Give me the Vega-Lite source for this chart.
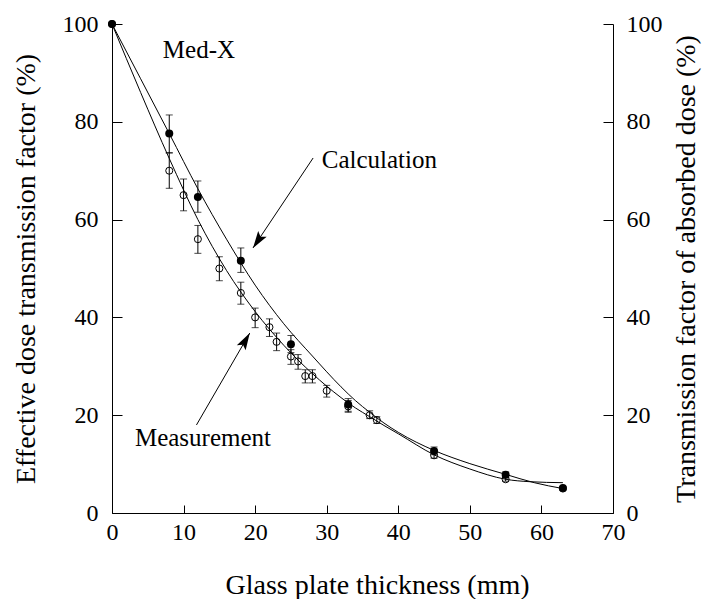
{
  "$schema": "https://vega.github.io/schema/vega-lite/v6.json",
  "width": 501,
  "height": 489,
  "autosize": "none",
  "padding": {"left": 112, "top": 24, "right": 89, "bottom": 86},
  "background": "white",
  "config": {
    "font": "Liberation Serif",
    "view": {"stroke": null},
    "axis": {
      "grid": false,
      "domainColor": "black",
      "tickColor": "black",
      "labelColor": "black",
      "titleColor": "black",
      "labelFont": "Liberation Serif",
      "titleFont": "Liberation Serif",
      "labelFontSize": 24,
      "titleFontSize": 28,
      "titleFontWeight": "normal",
      "domainWidth": 1,
      "tickWidth": 1
    }
  },
  "datasets": {
    "pts": [
      {"thickness": 0, "value": 100, "series": "Measurement"},
      {"thickness": 8, "value": 70, "lo": 66.4, "hi": 73.7, "series": "Measurement"},
      {"thickness": 10, "value": 65, "lo": 61.8, "hi": 68.3, "series": "Measurement"},
      {"thickness": 12, "value": 56, "lo": 53.1, "hi": 58.8, "series": "Measurement"},
      {"thickness": 15, "value": 50, "lo": 47.5, "hi": 52.4, "series": "Measurement"},
      {"thickness": 18, "value": 45, "lo": 42.7, "hi": 47.2, "series": "Measurement"},
      {"thickness": 20, "value": 40, "lo": 37.9, "hi": 41.9, "series": "Measurement"},
      {"thickness": 22, "value": 38, "lo": 36.1, "hi": 39.7, "series": "Measurement"},
      {"thickness": 23, "value": 35, "lo": 33.2, "hi": 36.8, "series": "Measurement"},
      {"thickness": 25, "value": 32, "lo": 30.4, "hi": 33.4, "series": "Measurement"},
      {"thickness": 26, "value": 31, "lo": 29.4, "hi": 32.4, "series": "Measurement"},
      {"thickness": 27, "value": 28, "lo": 26.6, "hi": 29.3, "series": "Measurement"},
      {"thickness": 28, "value": 28, "lo": 26.6, "hi": 29.3, "series": "Measurement"},
      {"thickness": 30, "value": 25, "lo": 23.7, "hi": 26.1, "series": "Measurement"},
      {"thickness": 33, "value": 21.8, "lo": 20.6, "hi": 23.0, "series": "Measurement"},
      {"thickness": 36, "value": 20, "lo": 19.3, "hi": 20.9, "series": "Measurement"},
      {"thickness": 37, "value": 19, "lo": 18.3, "hi": 19.7, "series": "Measurement"},
      {"thickness": 45, "value": 11.8, "lo": 11.2, "hi": 12.4, "series": "Measurement"},
      {"thickness": 55, "value": 6.9, "lo": 6.5, "hi": 7.3, "series": "Measurement"},
      {"thickness": 63, "value": 5, "lo": 4.7, "hi": 5.3, "series": "Measurement"},
      {"thickness": 0, "value": 100, "series": "Calculation"},
      {"thickness": 8, "value": 77.6, "lo": 73.6, "hi": 81.4, "series": "Calculation"},
      {"thickness": 12, "value": 64.6, "lo": 61.5, "hi": 67.9, "series": "Calculation"},
      {"thickness": 18, "value": 51.6, "lo": 49.2, "hi": 54.2, "series": "Calculation"},
      {"thickness": 25, "value": 34.5, "lo": 32.8, "hi": 36.3, "series": "Calculation"},
      {"thickness": 33, "value": 22.2, "lo": 20.8, "hi": 23.4, "series": "Calculation"},
      {"thickness": 45, "value": 12.7, "lo": 11.9, "hi": 13.5, "series": "Calculation"},
      {"thickness": 55, "value": 7.8, "lo": 7.2, "hi": 8.4, "series": "Calculation"},
      {"thickness": 63, "value": 5.1, "series": "Calculation"}
    ],
    "curves": [
      {"thickness": 0, "value": 100, "series": "Calculation"},
      {"thickness": 4, "value": 88.8, "series": "Calculation"},
      {"thickness": 8, "value": 77.6, "series": "Calculation"},
      {"thickness": 12, "value": 66.3, "series": "Calculation"},
      {"thickness": 16, "value": 56, "series": "Calculation"},
      {"thickness": 20, "value": 46.6, "series": "Calculation"},
      {"thickness": 24, "value": 38.7, "series": "Calculation"},
      {"thickness": 28, "value": 32.1, "series": "Calculation"},
      {"thickness": 32, "value": 25.8, "series": "Calculation"},
      {"thickness": 34, "value": 23.0, "series": "Calculation"},
      {"thickness": 36, "value": 20.6, "series": "Calculation"},
      {"thickness": 38, "value": 18.4, "series": "Calculation"},
      {"thickness": 40, "value": 16.5, "series": "Calculation"},
      {"thickness": 45, "value": 12.8, "series": "Calculation"},
      {"thickness": 50, "value": 10.1, "series": "Calculation"},
      {"thickness": 55, "value": 7.9, "series": "Calculation"},
      {"thickness": 59, "value": 6.2, "series": "Calculation"},
      {"thickness": 63, "value": 5.0, "series": "Calculation"},
      {"thickness": 0, "value": 100, "series": "Measurement"},
      {"thickness": 4, "value": 86, "series": "Measurement"},
      {"thickness": 8, "value": 72.5, "series": "Measurement"},
      {"thickness": 12, "value": 60, "series": "Measurement"},
      {"thickness": 16, "value": 49.6, "series": "Measurement"},
      {"thickness": 20, "value": 41.2, "series": "Measurement"},
      {"thickness": 24, "value": 34.3, "series": "Measurement"},
      {"thickness": 28, "value": 28.5, "series": "Measurement"},
      {"thickness": 32, "value": 23.6, "series": "Measurement"},
      {"thickness": 34, "value": 21.5, "series": "Measurement"},
      {"thickness": 36, "value": 19.7, "series": "Measurement"},
      {"thickness": 38, "value": 17.9, "series": "Measurement"},
      {"thickness": 40, "value": 16.2, "series": "Measurement"},
      {"thickness": 45, "value": 11.9, "series": "Measurement"},
      {"thickness": 50, "value": 9.0, "series": "Measurement"},
      {"thickness": 55, "value": 6.9, "series": "Measurement"},
      {"thickness": 58.4, "value": 6.4, "series": "Measurement"},
      {"thickness": 63, "value": 6.2, "series": "Measurement"}
    ],
    "labels": [
      {"x": 7.1, "y": 93.0, "text": "Med-X"},
      {"x": 29.3, "y": 70.5, "text": "Calculation"},
      {"x": 3.2, "y": 13.6, "text": "Measurement"}
    ],
    "arrows": [
      {"x": 28.1, "y": 72.6, "x2": 19.7, "y2": 54.2, "angle": 213.7},
      {"x": 11.8, "y": 18.0, "x2": 19.25, "y2": 36.8, "angle": 30.2}
    ]
  },
  "data": {"name": "pts"},
  "layer": [
    {
      "data": {"name": "curves"},
      "mark": {"type": "line", "interpolate": "monotone", "color": "black", "strokeWidth": 1},
      "encoding": {
        "x": {"field": "thickness", "type": "quantitative",
              "scale": {"domain": [0, 70], "nice": false},
              "axis": {"values": [0, 10, 20, 30, 40, 50, 60, 70], "tickSize": -8, "labelPadding": 15,
                       "labelFlush": false,
                       "title": "Glass plate thickness (mm)",
                       "titleX": 265, "titleY": 80, "titleBaseline": "alphabetic"}},
        "y": {"field": "value", "type": "quantitative",
              "scale": {"domain": [0, 100], "nice": false},
              "axis": {"orient": "left", "values": [0, 20, 40, 60, 80, 100], "tickSize": -10, "labelPadding": 24,
                       "title": "Effective dose transmission factor (%)",
                       "titleAngle": 270, "titleX": -78,
                       "titleY": 244.5, "titleAlign": "center", "titleBaseline": "alphabetic"}},
        "detail": {"field": "series"}
      }
    },
    {
      "mark": {"type": "rule", "color": "black", "strokeWidth": 1},
      "encoding": {
        "x": {"field": "thickness", "type": "quantitative"},
        "y": {"field": "lo", "type": "quantitative",
              "axis": {"orient": "right", "values": [0, 20, 40, 60, 80, 100], "tickSize": -10, "labelPadding": 23,
                       "title": "Transmission factor of absorbed dose (%)",
                       "titleAngle": 270, "titleX": 81.5,
                       "titleY": 244.5, "titleAlign": "center", "titleBaseline": "alphabetic"}},
        "y2": {"field": "hi"}
      }
    },
    {
      "mark": {"type": "point", "shape": "stroke", "stroke": "black", "strokeWidth": 1, "size": 49},
      "encoding": {
        "x": {"field": "thickness", "type": "quantitative"},
        "y": {"field": "lo", "type": "quantitative", "axis": null}
      }
    },
    {
      "mark": {"type": "point", "shape": "stroke", "stroke": "black", "strokeWidth": 1, "size": 49},
      "encoding": {
        "x": {"field": "thickness", "type": "quantitative"},
        "y": {"field": "hi", "type": "quantitative", "axis": null}
      }
    },
    {
      "transform": [{"filter": "datum.series === 'Measurement'"}],
      "mark": {"type": "point", "shape": "circle", "filled": false, "stroke": "black", "strokeWidth": 1, "size": 50, "opacity": 1},
      "encoding": {
        "x": {"field": "thickness", "type": "quantitative"},
        "y": {"field": "value", "type": "quantitative", "axis": null}
      }
    },
    {
      "transform": [{"filter": "datum.series === 'Calculation'"}],
      "mark": {"type": "point", "shape": "circle", "filled": true, "color": "black", "size": 64, "opacity": 1},
      "encoding": {
        "x": {"field": "thickness", "type": "quantitative"},
        "y": {"field": "value", "type": "quantitative", "axis": null}
      }
    },
    {
      "data": {"name": "arrows"},
      "mark": {"type": "rule", "color": "black", "strokeWidth": 1},
      "encoding": {
        "x": {"field": "x", "type": "quantitative"},
        "y": {"field": "y", "type": "quantitative", "axis": null},
        "x2": {"field": "x2"},
        "y2": {"field": "y2"}
      }
    },
    {
      "data": {"name": "arrows"},
      "mark": {"type": "point", "shape": "M0,0L-0.3,1L0,0.8L0.3,1Z", "filled": true, "color": "black", "size": 1156, "opacity": 1},
      "encoding": {
        "x": {"field": "x2", "type": "quantitative"},
        "y": {"field": "y2", "type": "quantitative", "axis": null},
        "angle": {"field": "angle", "type": "quantitative", "scale": null}
      }
    },
    {
      "data": {"name": "labels"},
      "mark": {"type": "text", "font": "Liberation Serif", "fontSize": 25, "align": "left", "baseline": "alphabetic", "color": "black"},
      "encoding": {
        "x": {"field": "x", "type": "quantitative"},
        "y": {"field": "y", "type": "quantitative", "axis": null},
        "text": {"field": "text"}
      }
    }
  ],
  "resolve": {"axis": {"y": "independent"}}
}
